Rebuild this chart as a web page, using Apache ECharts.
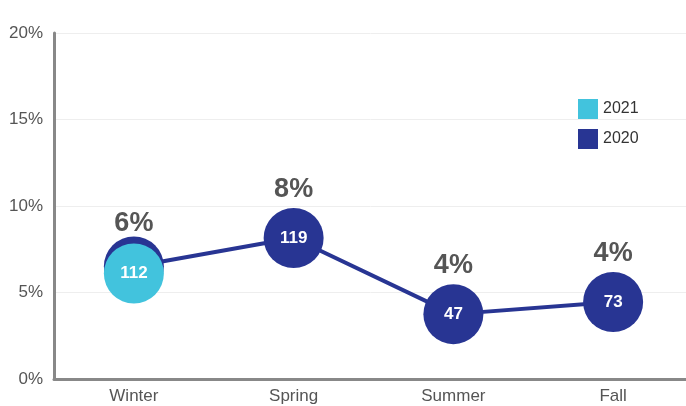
<!DOCTYPE html>
<html><head><meta charset="utf-8">
<script src="https://cdn.jsdelivr.net/npm/echarts@6/dist/echarts.min.js"></script>
<style>html,body{margin:0;padding:0;background:#fff}#c{width:686px;height:406px}</style>
</head><body><div id="c"></div>
<script>
var categories = ['Winter', 'Spring', 'Summer', 'Fall'];
var values2020 = [6.5, 8.15, 3.75, 4.45];
var counts2020 = ['', '119', '47', '73'];
var pctLabels2020 = ['6%', '8%', '4%', '4%'];
var values2021 = [6.1, null, null, null];
var counts2021 = ['112', '', '', ''];
var yTicks = [0, 5, 10, 15, 20];

var dark = '#283593', cyan = '#42C3DD';
var chart = echarts.init(document.getElementById('c'));
chart.setOption({
  animation: false,
  textStyle: {fontFamily: 'Liberation Sans, Arial, sans-serif'},
  grid: {left: 54, width: 639, top: 33, bottom: 27, outerBoundsMode: 'none', containLabel: false},
  legend: {
    data: ['2021', '2020'], orient: 'vertical', left: 573, top: 94,
    icon: 'rect', itemWidth: 20, itemHeight: 20, itemGap: 10,
    textStyle: {fontSize: 16, color: '#333'}
  },
  xAxis: {
    type: 'category', data: categories, boundaryGap: true,
    axisLine: {lineStyle: {color: '#888', width: 3}},
    axisTick: {show: false},
    axisLabel: {fontSize: 17, color: '#555', margin: 9}
  },
  yAxis: {
    type: 'value', min: yTicks[0], max: yTicks[yTicks.length - 1], interval: 5,
    axisLine: {show: true, lineStyle: {color: '#888', width: 3}},
    axisTick: {show: false},
    splitLine: {lineStyle: {color: '#eee'}},
    axisLabel: {fontSize: 17, color: '#555', margin: 11, formatter: '{value}%'}
  },
  series: [
    {
      name: '2020', type: 'line', data: values2020, z: 2,
      symbol: 'circle', symbolSize: 60, showSymbol: true,
      lineStyle: {color: dark, width: 4}, itemStyle: {color: dark},
      label: {show: true, position: 'inside', color: '#fff', fontWeight: 'bold', fontSize: 17,
        formatter: function (p) { return counts2020[p.dataIndex]; }}
    },
    {
      name: 'pct', type: 'scatter', data: values2020, z: 1,
      symbolSize: 60, itemStyle: {color: 'rgba(0,0,0,0)', opacity: 1}, silent: true,
      label: {show: true, position: 'top', distance: 5, color: '#555', opacity: 1, fontWeight: 'bold', fontSize: 27,
        formatter: function (p) { return pctLabels2020[p.dataIndex]; }},
      labelLayout: function (p) { return p.dataIndex === 0 ? {dy: 5} : {}; }
    },
    {
      name: '2021', type: 'line', data: values2021, z: 3,
      symbol: 'circle', symbolSize: 60,
      lineStyle: {color: cyan, width: 4}, itemStyle: {color: cyan},
      label: {show: true, position: 'inside', color: '#fff', fontWeight: 'bold', fontSize: 17,
        formatter: function (p) { return counts2021[p.dataIndex]; }}
    }
  ]
});
</script></body></html>
